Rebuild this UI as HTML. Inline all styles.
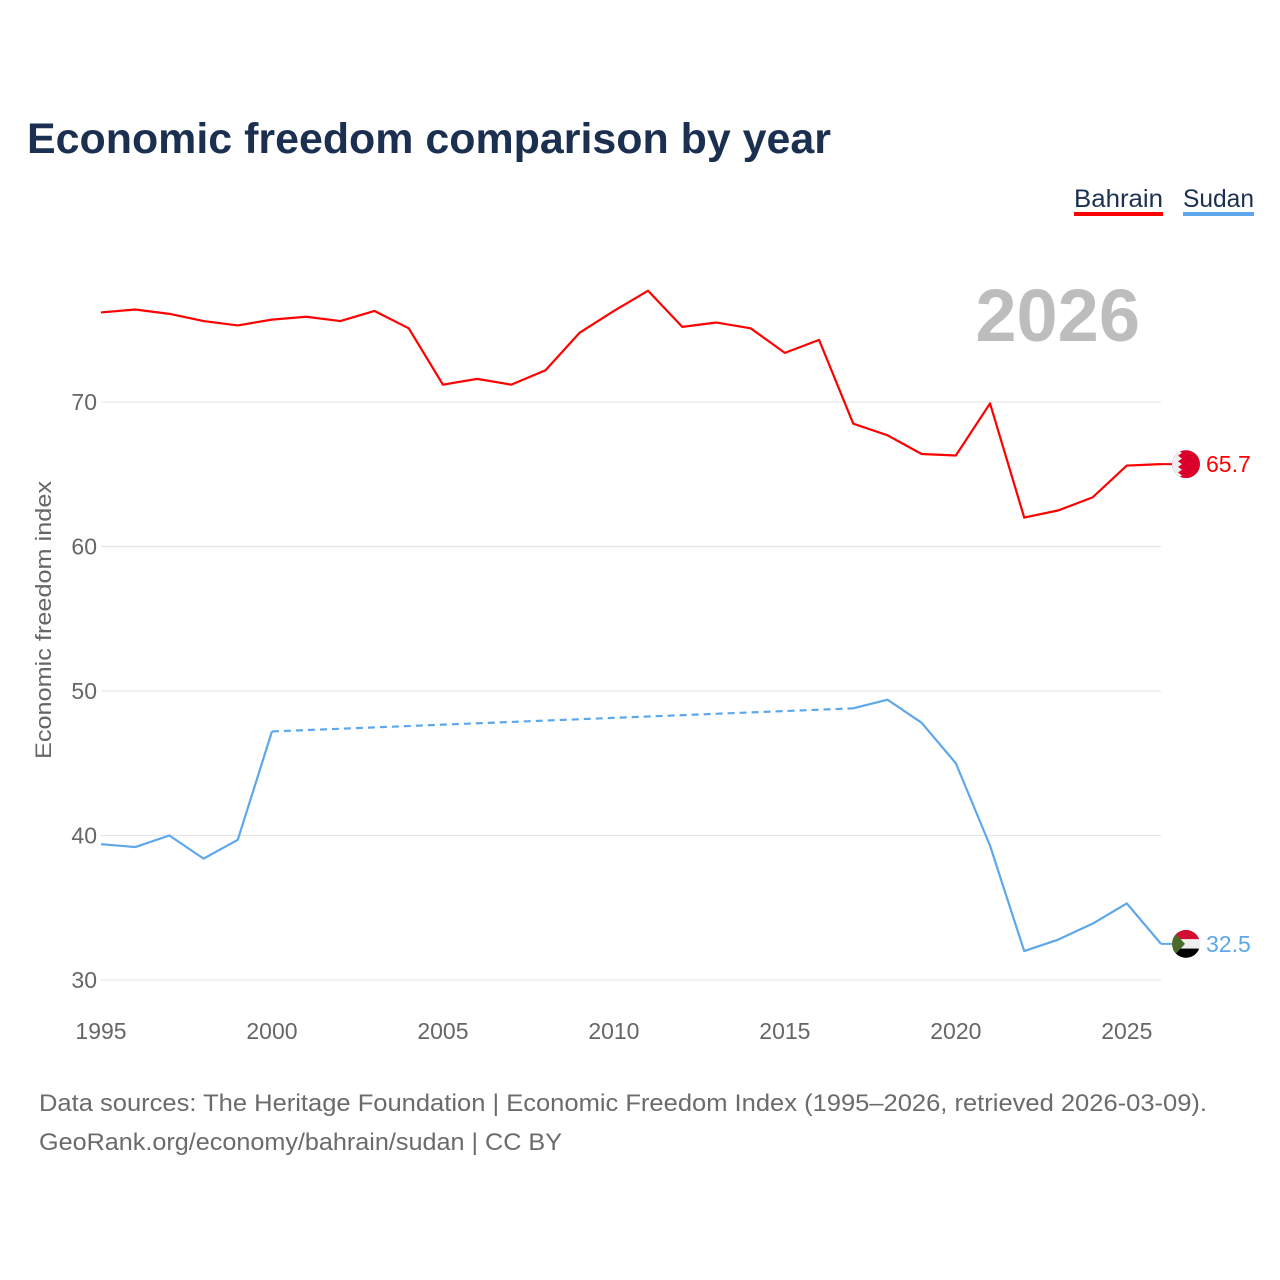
<!DOCTYPE html>
<html><head><meta charset="utf-8">
<style>
html,body{margin:0;padding:0;background:#fff;}
body{width:1280px;height:1280px;position:relative;font-family:"Liberation Sans",sans-serif;overflow:hidden;}
</style></head>
<body>
<svg id="chart" width="1280" height="1280" xmlns="http://www.w3.org/2000/svg" style="position:absolute;left:0;top:0">
<text x="27" y="153" font-size="43" font-weight="bold" fill="#1b3050" textLength="804" lengthAdjust="spacingAndGlyphs">Economic freedom comparison by year</text>
<g>
<g>
<text x="1074" y="207" font-size="25" fill="#1b3050" textLength="89" lengthAdjust="spacingAndGlyphs">Bahrain</text>
<rect x="1074" y="212" width="89" height="4" fill="#ff0000"/>
</g>
<g>
<text x="1183" y="207" font-size="25" fill="#1b3050" textLength="71" lengthAdjust="spacingAndGlyphs">Sudan</text>
<rect x="1183" y="212" width="71" height="4" fill="#5ea7ea"/>
</g>
</g>
<text x="1140" y="341" font-size="74" font-weight="bold" fill="#bdbdbd" text-anchor="end">2026</text>
<text transform="translate(51,620) rotate(-90)" font-size="22" fill="#666" text-anchor="middle" textLength="278" lengthAdjust="spacingAndGlyphs">Economic freedom index</text>
<g id="grid"></g>
<g id="yticks"></g>
<g id="xticks"></g>
<g id="series"></g>
<g id="endlabels"></g>
<text x="39" y="1111" font-size="24" fill="#6b6b6b" textLength="1168" lengthAdjust="spacingAndGlyphs">Data sources: The Heritage Foundation | Economic Freedom Index (1995–2026, retrieved 2026-03-09).</text>
<text x="39" y="1150" font-size="24" fill="#6b6b6b" textLength="523" lengthAdjust="spacingAndGlyphs">GeoRank.org/economy/bahrain/sudan | CC BY</text>
</svg>
<script>
const years = [1995,1996,1997,1998,1999,2000,2001,2002,2003,2004,2005,2006,2007,2008,2009,2010,2011,2012,2013,2014,2015,2016,2017,2018,2019,2020,2021,2022,2023,2024,2025,2026];
const bahrain = [76.2,76.4,76.1,75.6,75.3,75.7,75.9,75.6,76.3,75.1,71.2,71.6,71.2,72.2,74.8,76.3,77.7,75.2,75.5,75.1,73.4,74.3,68.5,67.7,66.4,66.3,69.9,62.0,62.5,63.4,65.6,65.7];
const sudan = [39.4,39.2,40.0,38.4,39.7,47.2,null,null,null,null,null,null,null,null,null,null,null,null,null,null,null,null,48.8,49.4,47.8,45.0,39.3,32.0,32.8,33.9,35.3,32.5];
const yTicks = [30,40,50,60,70];
const xTicks = [1995,2000,2005,2010,2015,2020,2025];

const NS='http://www.w3.org/2000/svg';
const X0=101, X1=1161, Y70=402, Y30=980;
function xs(y){return X0+(y-1995)*(X1-X0)/(2026-1995);}
function ys(v){return Y30+(v-30)*(Y70-Y30)/40;}
function mk(tag,attrs,parent){const e=document.createElementNS(NS,tag);for(const k in attrs)e.setAttribute(k,attrs[k]);parent.appendChild(e);return e;}

const grid=document.getElementById('grid'), yt=document.getElementById('yticks'), xt=document.getElementById('xticks'), ser=document.getElementById('series'), el=document.getElementById('endlabels');
yTicks.forEach(v=>{
  const l=mk('line',{x1:X0,x2:X1,y1:ys(v),y2:ys(v),stroke:'#e6e6e6','stroke-width':1.3},grid);
  
  
  const t=mk('text',{x:97,y:ys(v)+8,'font-size':23,fill:'#666','text-anchor':'end'},yt);
  t.textContent=v;
  
  
});
xTicks.forEach(y=>{
  const t=mk('text',{x:xs(y),y:1039,'font-size':23,fill:'#666','text-anchor':'middle'},xt);
  t.textContent=y;
  
  
});

function drawSeries(vals,color,name){
  let seg=[], segs=[], prev=null, dashed=[];
  vals.forEach((v,i)=>{
    if(v==null){ if(seg.length){segs.push(seg);seg=[];} return; }
    if(prev!=null && prev!==i-1){ dashed.push([[xs(years[prev]),ys(vals[prev])],[xs(years[i]),ys(v)]]); }
    seg.push([xs(years[i]),ys(v)]); prev=i;
  });
  if(seg.length)segs.push(seg);
  segs.forEach(s=>{
    const p=mk('polyline',{points:s.map(q=>q.join(',')).join(' '),fill:'none',stroke:color,'stroke-width':2.2,'stroke-linejoin':'round'},ser);
    
    
  });
  dashed.forEach(d=>{
    const p=mk('line',{x1:d[0][0],y1:d[0][1],x2:d[1][0],y2:d[1][1],stroke:color,'stroke-width':2.2,'stroke-dasharray':'7,5'},ser);
    
    
  });
}
drawSeries(bahrain,'#ff0000','bahrain');
drawSeries(sudan,'#5ea7ea','sudan');

function endLabel(vals,color,name,flag){
  const v=vals[vals.length-1], y=ys(v), cx=1186;
  mk('line',{x1:X1,x2:cx,y1:y,y2:y,stroke:color,'stroke-width':2},el);
  const g=mk('g',{},el);
  
  
  flag(g,cx,y);
  const t=mk('text',{x:1206,y:y+8,'font-size':23,fill:color},el);
  t.textContent=v.toFixed(1);
  
  
}
endLabel(bahrain,'#ff0000','bahrain',(g,cx,cy)=>{
  const cp=mk('clipPath',{id:'cb'},g); mk('circle',{cx,cy,r:14},cp);
  const gg=mk('g',{'clip-path':'url(#cb)'},g);
  mk('rect',{x:cx-14,y:cy-14,width:28,height:28,fill:'#da0029'},gg);
  let pts=`${cx-14},${cy-14} `;
  for(let i=0;i<5;i++){const y0=cy-14+i*5.6;pts+=`${cx-8},${y0} ${cx-4},${y0+2.8} ${cx-8},${y0+5.6} `;}
  pts+=`${cx-14},${cy+14}`;
  mk('polygon',{points:pts,fill:'#eee'},gg);
});
endLabel(sudan,'#5ea7ea','sudan',(g,cx,cy)=>{
  const cp=mk('clipPath',{id:'cs'},g); mk('circle',{cx,cy,r:14},cp);
  const gg=mk('g',{'clip-path':'url(#cs)'},g);
  mk('rect',{x:cx-14,y:cy-14,width:28,height:9.4,fill:'#d21034'},gg);
  mk('rect',{x:cx-14,y:cy-4.6,width:28,height:9.4,fill:'#eee'},gg);
  mk('rect',{x:cx-14,y:cy+4.7,width:28,height:9.4,fill:'#000'},gg);
  mk('polygon',{points:`${cx-14},${cy-14} ${cx-1},${cy} ${cx-14},${cy+14}`,fill:'#4a6b2a'},gg);
});
</script>
</body></html>
